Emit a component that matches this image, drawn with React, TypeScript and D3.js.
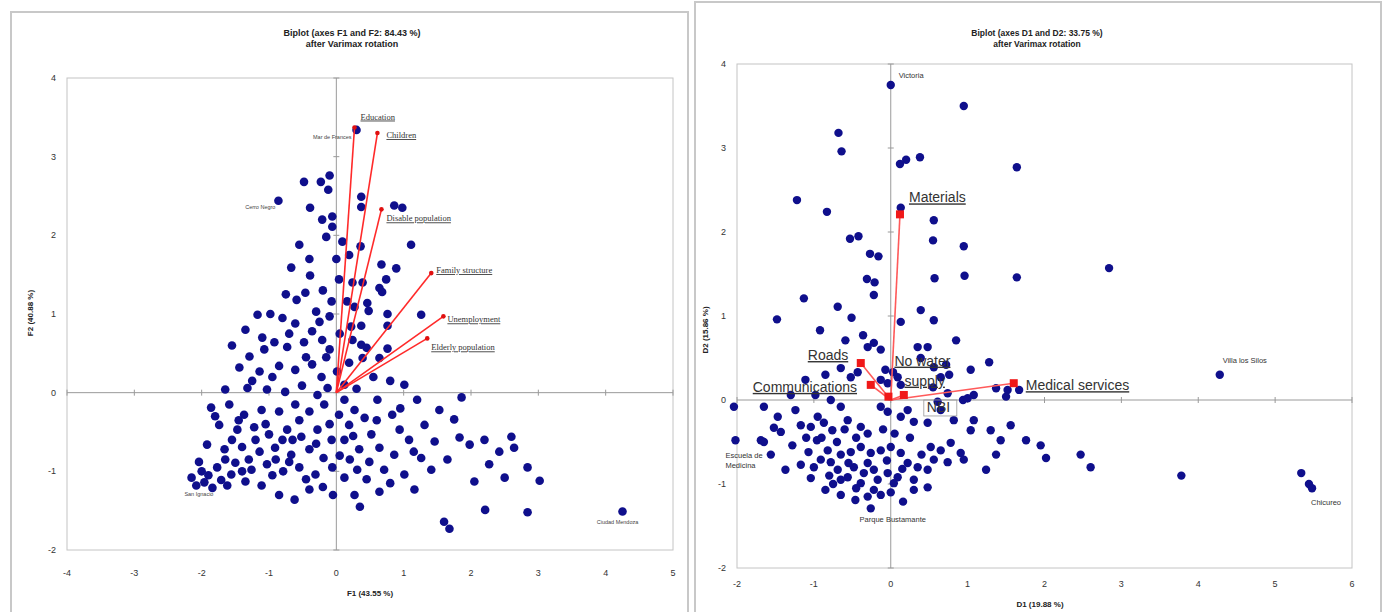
import React from "react";
import * as d3 from "d3";

// ---- left biplot (F1 / F2) ----
const leftTicksX = [-4, -3, -2, -1, 0, 1, 2, 3, 4, 5];
const leftTicksY = [-2, -1, 0, 1, 2, 3, 4];

const leftPoints: [number, number][] = [
  [0.30, 3.34], [-0.10, 2.76], [-0.12, 2.58], [-0.23, 2.68], [0.37, 2.49], [0.37, 2.36], [-0.06, 2.24], [-0.21, 2.20],
  [-0.06, 2.11], [0.86, 2.38], [0.98, 2.35], [-0.15, 1.98], [0.09, 1.92], [0.19, 1.75], [0.36, 1.86], [1.11, 1.88],
  [0.67, 1.63], [0.89, 1.58], [0.04, 1.44], [0.24, 1.40], [0.39, 1.40], [0.74, 1.44], [0.64, 1.33], [0.68, 1.28],
  [-0.07, 1.16], [0.16, 1.16], [0.46, 1.14], [0.27, 1.09], [-0.10, 0.97], [0.48, 1.04], [0.76, 1.00], [1.26, 0.99],
  [0.22, 0.84], [0.37, 0.85], [0.76, 0.85], [-0.21, 0.67], [0.24, 0.67], [0.37, 0.61], [0.45, 0.57], [0.76, 0.56],
  [0.64, 0.44], [0.39, 0.44], [0.19, 0.38], [-0.48, 2.68], [-0.39, 2.35], [-0.86, 2.44],
  [-0.55, 1.88], [-0.67, 1.59], [-0.39, 1.49], [-0.46, 1.27], [-0.59, 1.18], [-0.80, 0.95], [-0.61, 0.88], [-0.36, 0.78],
  [-0.30, 1.03], [-1.17, 0.99], [-0.98, 1.00], [-0.48, 0.64], [-0.73, 0.58], [-0.92, 0.64], [-1.07, 0.55], [-1.29, 0.46],
  [-1.44, 0.32], [-1.14, 0.27], [-0.85, 0.34], [-0.61, 0.29], [-0.36, 0.36], [-0.22, 0.20], [-1.65, 0.04], [-1.32, 0.06],
  [-1.03, 0.04], [-0.76, 0.01], [-0.51, 0.09], [-0.28, -0.03], [-0.10, 0.55], [0.01, 0.27], [0.12, 0.10], [-0.13, 0.06],
  [-1.86, -0.19], [-1.59, -0.15], [-1.37, -0.28], [-1.11, -0.22], [-0.85, -0.24], [-0.61, -0.15], [-0.40, -0.24], [-0.18, -0.15],
  [-1.74, -0.41], [-1.47, -0.47], [-1.22, -0.44], [-1.00, -0.53], [-0.73, -0.47], [-0.52, -0.56], [-0.28, -0.47], [-0.07, -0.60],
  [-1.92, -0.66], [-1.66, -0.72], [-1.40, -0.69], [-1.14, -0.75], [-0.91, -0.70], [-0.67, -0.79], [-0.40, -0.72], [-0.19, -0.83],
  [-2.04, -0.88], [-1.77, -0.95], [-1.50, -0.89], [-1.26, -0.98], [-1.03, -0.91], [-0.79, -1.00], [-0.55, -0.95], [-0.31, -1.04],
  [-0.06, -0.95], [-2.15, -1.08], [-1.96, -1.14], [-1.84, -1.21], [-1.71, -1.11], [-1.56, -1.04], [-1.35, -1.13], [-1.11, -1.18],
  [-0.62, -1.36], [-0.40, -1.23],
  [0.12, -0.09], [0.27, -0.22], [0.19, -0.41], [0.42, -0.32], [0.04, -0.28], [0.12, -0.60], [0.34, -0.72], [0.52, -0.53],
  [0.64, -0.70], [0.31, -0.98], [0.49, -0.88], [0.12, -1.08], [0.71, -0.98], [0.86, -0.79], [0.94, -0.47], [0.83, -0.28],
  [0.61, -0.09], [1.01, 0.10], [1.20, -0.09], [1.08, -0.60], [1.26, -0.83], [1.46, -0.62], [1.01, -1.04], [0.64, -1.26],
  [0.27, -1.30], [1.16, -1.23], [1.41, -0.98], [1.65, -0.85], [1.83, -0.57], [1.98, -0.66], [2.20, -0.60], [2.42, -0.75],
  [2.60, -0.56], [2.64, -0.70], [2.27, -0.91], [2.05, -1.13], [2.50, -1.08], [3.02, -1.12], [2.84, -0.95], [1.60, -1.64],
  [1.68, -1.73], [2.21, -1.49], [2.84, -1.52], [4.25, -1.51], [1.53, -0.22], [1.75, -0.34], [1.31, -0.41], [1.86, -0.06],
  [-1.80, -0.30], [-1.55, -0.60], [-1.30, -0.85], [-1.05, -0.40], [-0.80, -0.60], [-0.55, -0.35], [-0.30, -0.65], [-0.10, -0.40],
  [-1.65, -0.85], [-1.40, -1.00], [-0.95, -1.05], [-0.70, -0.88], [-0.45, -1.10], [-0.20, -1.20], [-1.20, -0.60], [-0.65, -0.60],
  [-0.90, -0.85], [-2.00, -1.00], [-1.90, -1.05], [-1.62, -1.18], [-2.08, -1.18], [-1.45, -0.35], [-0.95, 0.20], [-1.25, 0.15],
  [-0.45, 0.45], [-0.70, 0.75], [-0.15, 0.45], [-0.25, 0.90], [-0.40, 1.70], [0.05, 0.75], [0.55, 0.20], [0.80, 0.15],
  [0.30, 0.05], [0.95, -0.20], [0.45, -1.10], [0.80, -1.15], [0.20, -0.85], [1.15, -0.75], [0.60, -0.35], [0.25, -0.55],
  [0.05, -0.80], [-0.05, -1.30], [0.35, -1.45], [-0.85, -1.30], [-1.10, 0.70], [-1.55, 0.60], [-1.35, 0.80], [-0.75, 1.25],
  [0.00, 1.70], [-0.20, 1.30],
];

const leftVectorNames = ["Education", "Children", "Disable population", "Family structure", "Unemployment", "Elderly population"];
const leftVectorX = [0.27, 0.61, 0.67, 1.41, 1.59, 1.35];
const leftVectorY = [3.37, 3.30, 2.33, 1.52, 0.97, 0.69];

const leftObsNames = ["Mar de Frances", "Cerro Negro", "San Ignacio", "Ciudad Mendoza"];
const leftObsX = [0.30, -0.86, -1.84, 4.25];
const leftObsY = [3.34, 2.44, -1.21, -1.51];

// ---- right biplot (D1 / D2) ----
const rightTicksX = [-2, -1, 0, 1, 2, 3, 4, 5, 6];
const rightTicksY = [-2, -1, 0, 1, 2, 3, 4];

const rightPoints: [number, number][] = [
  [0.00, 3.75], [0.95, 3.50], [-0.68, 3.18], [-0.64, 2.96], [1.64, 2.77], [0.12, 2.81], [0.20, 2.86], [0.38, 2.89],
  [-1.22, 2.38], [-0.83, 2.24], [0.56, 2.14], [0.13, 2.29], [-0.53, 1.92], [-0.42, 1.95], [0.55, 1.90], [0.95, 1.83],
  [-0.27, 1.74], [-0.16, 1.71], [2.84, 1.57], [-0.31, 1.44], [-0.21, 1.40], [0.57, 1.45], [0.96, 1.48], [1.64, 1.46],
  [-1.13, 1.21], [-1.48, 0.96], [-0.69, 1.11], [-0.51, 0.98], [0.13, 0.93], [0.39, 1.07], [0.56, 0.95], [-0.92, 0.83],
  [-0.59, 0.71], [-0.36, 0.77], [0.85, 0.71], [-0.22, 1.25],
  [-1.65, -0.08], [-1.47, -0.20], [-1.52, -0.33], [-0.95, -0.20], [-0.87, -0.27], [-1.04, -0.32], [-0.65, -0.08], [-0.56, -0.24],
  [-0.39, -0.32], [-0.76, -0.36], [-0.65, 0.38], [-0.52, 0.27], [-0.43, 0.33], [-0.13, 0.60], [-0.30, 0.63], [-0.22, 0.68],
  [-0.07, 0.36], [0.03, 0.33], [0.09, 0.27], [-0.13, 0.24], [-0.04, 0.20], [0.13, 0.18], [0.35, 0.63], [0.48, 0.63],
  [0.39, 0.50], [0.56, 0.39], [0.72, 0.42], [0.65, 0.27], [0.76, 0.30], [0.55, 0.15], [0.74, 0.08], [0.61, -0.02],
  [1.04, 0.36], [1.28, 0.45], [1.08, 0.06], [0.94, 0.00], [1.00, 0.02], [1.37, 0.14], [1.52, 0.12], [1.50, 0.04],
  [1.67, 0.12], [-0.13, -0.08], [-0.04, -0.14], [0.13, -0.20], [0.22, -0.12], [0.30, -0.26], [0.48, -0.27], [0.65, -0.12],
  [0.82, -0.24], [1.08, -0.24], [1.30, -0.36], [1.04, -0.36], [-1.43, -0.38], [-1.69, -0.48],
  [-1.65, -0.50], [-1.28, -0.54], [-1.07, -0.62], [-0.82, -0.60], [-0.78, -0.74], [-0.65, -0.65], [-0.52, -0.62], [-0.39, -0.56],
  [-0.26, -0.63], [-0.13, -0.60], [0.00, -0.56], [0.13, -0.63], [0.22, -0.75], [0.35, -0.80], [0.48, -0.83], [0.56, -0.71],
  [0.52, -0.56], [0.65, -0.60], [0.78, -0.51], [0.91, -0.63], [0.95, -0.71], [0.74, -0.74], [-0.91, -0.71], [-0.69, -0.83],
  [-0.56, -0.92], [-0.48, -0.80], [-0.35, -0.87], [-0.22, -0.83], [-0.04, -0.87], [0.09, -0.92], [-0.65, -0.95], [-0.39, -0.99],
  [-0.17, -0.95], [0.04, -0.99], [0.30, -0.95], [0.48, -1.04], [0.30, -1.07], [-0.22, -1.07], [-0.13, -1.13], [0.16, -1.21],
  [-0.26, -1.29],
  [4.28, 0.30], [5.34, -0.87], [5.44, -1.00], [5.48, -1.05], [3.78, -0.90], [2.60, -0.80], [2.47, -0.65], [2.02, -0.69],
  [1.56, -0.30], [1.76, -0.48], [1.95, -0.54], [1.43, -0.48], [1.37, -0.65], [1.24, -0.83], [-2.04, -0.08], [-2.02, -0.48],
  [-1.56, -0.65], [-1.37, -0.83], [-1.24, -0.12], [-1.17, -0.30], [-1.30, 0.06], [-0.98, 0.06], [-0.78, 0.00], [-1.11, 0.24],
  [-0.85, 0.30], [-0.96, -0.48], [-1.17, -0.77], [-1.04, -0.93], [-0.85, -1.07], [-0.65, -1.13], [-0.46, -1.19],
  [-0.90, -0.45], [-0.70, -0.50], [-0.45, -0.45], [-0.30, -0.40], [-0.10, -0.35], [0.05, -0.40], [0.25, -0.45], [-1.00, -0.80],
  [-0.80, -0.90], [-0.55, -0.75], [-0.30, -0.75], [-0.05, -0.72], [0.15, -0.82], [-0.45, -1.05], [-0.30, -1.15], [0.00, -1.10],
  [-0.75, -1.00], [0.40, -0.65], [-1.10, -0.45], [-0.60, -0.35],
];

const rightVectorNames = ["Materials", "Roads", "Communications", "No water supply", "NBI", "Medical services"];
const rightVectorX = [0.12, -0.39, -0.26, -0.03, 0.17, 1.60];
const rightVectorY = [2.21, 0.44, 0.18, 0.04, 0.06, 0.20];

const rightObsNames = ["Victoria", "Villa los Silos", "Chicureo", "Escuela de Medicina", "Parque Bustamante"];
const rightObsX = [0.00, 4.28, 5.48, -2.02, -0.26];
const rightObsY = [3.75, 0.30, -1.05, -0.48, -1.29];

// label placement (px offsets from the mark)
const leftVecLabelOff: [number, number][] = [[6, -8], [9, 5], [5, 12], [5, 0], [4, 6], [4, 12]];
const leftObsLabelOff: [number, number, string][] = [[-5, 9, "end"], [-3, 8, "end"], [1, 8, "end"], [-5, 13, "middle"]];
const rightVecLabelOff: [number, number][] = [[9, -12], [-53, -3], [-118, 7], [6, -31], [23, 17], [12, 7]];
const rightObsLabelOff: [number, number, string][] = [[8, -7], [3, -12], [-1, 17], [-10, 18], [22, 14]].map(
  (d, i) => [d[0], d[1], i === 4 ? "middle" : "start"] as [number, number, string]
);

const SANS = "'Liberation Sans', Arial, sans-serif";
const SERIF = "'Liberation Serif', 'Times New Roman', serif";
const DOT = "#0f0f8c";

function Frame({ x, y, tx, ty, tickY }: any) {
  const [x0, x1] = x.range();
  const [y0, y1] = y.range();
  return (
    <g>
      <rect x={x0} y={y1} width={x1 - x0} height={y0 - y1} fill="none" stroke="#c4c4c4" strokeWidth={1} />
      <line x1={x0} x2={x1} y1={y(0)} y2={y(0)} stroke="#9a9a9a" strokeWidth={1} />
      <line x1={x(0)} x2={x(0)} y1={y0} y2={y1} stroke="#9a9a9a" strokeWidth={1} />
      {tx.map((t: number) => (
        <line key={"tx" + t} x1={x(t)} x2={x(t)} y1={y(0) - 3} y2={y(0) + 3} stroke="#9a9a9a" />
      ))}
      {ty.map((t: number) => (
        <line key={"ty" + t} x1={x(0) - 3} x2={x(0) + 3} y1={y(t)} y2={y(t)} stroke="#9a9a9a" />
      ))}
      {tx.map((t: number) => (
        <text key={"lx" + t} x={x(t)} y={tickY} fontSize={9} fontFamily={SANS} fill="#333" textAnchor="middle">
          {t}
        </text>
      ))}
      {ty.map((t: number) => (
        <text key={"ly" + t} x={x0 - 11} y={y(t) + 3} fontSize={9} fontFamily={SANS} fill="#333" textAnchor="end">
          {t}
        </text>
      ))}
    </g>
  );
}

export default function App() {
  const lx = d3.scaleLinear().domain([-4, 5]).range([67, 673]);
  const ly = d3.scaleLinear().domain([-2, 4]).range([550, 78]);
  const rx = d3.scaleLinear().domain([-2, 6]).range([737, 1352]);
  const ry = d3.scaleLinear().domain([-2, 4]).range([568, 64]);

  return (
    <svg width={1383} height={612} style={{ position: "absolute", left: 0, top: 0, background: "#fff" }}>
      {/* panel borders */}
      <rect x={11} y={12} width={677} height={604} fill="none" stroke="#c8c8c8" strokeWidth={2} />
      <rect x={695} y={2} width={686} height={612} fill="none" stroke="#c8c8c8" strokeWidth={2} />

      {/* ---------- left chart ---------- */}
      <text x={352} y={36} textAnchor="middle" fontSize={9} fontWeight="bold" fontFamily={SANS} fill="#222">
        Biplot (axes F1 and F2: 84.43 %)
      </text>
      <text x={352} y={47} textAnchor="middle" fontSize={9} fontWeight="bold" fontFamily={SANS} fill="#222">
        after Varimax rotation
      </text>
      <Frame x={lx} y={ly} tx={leftTicksX} ty={leftTicksY} tickY={576} />
      <text x={370} y={596} textAnchor="middle" fontSize={8} fontWeight="bold" fontFamily={SANS} fill="#222">
        F1 (43.55 %)
      </text>
      <text transform="translate(33,313) rotate(-90)" textAnchor="middle" fontSize={8} fontWeight="bold" fontFamily={SANS} fill="#222">
        F2 (40.88 %)
      </text>
      {leftPoints.map((p, i) => (
        <circle key={"lp" + i} cx={lx(p[0])} cy={ly(p[1])} r={4.3} fill={DOT} />
      ))}
      {leftVectorNames.map((n, i) => (
        <g key={"lv" + i}>
          <line x1={lx(0)} y1={ly(0)} x2={lx(leftVectorX[i])} y2={ly(leftVectorY[i])} stroke="#ff2a2a" strokeWidth={1.6} />
          <circle cx={lx(leftVectorX[i])} cy={ly(leftVectorY[i])} r={2.3} fill="#e01010" />
          <text
            x={lx(leftVectorX[i]) + leftVecLabelOff[i][0]}
            y={ly(leftVectorY[i]) + leftVecLabelOff[i][1]}
            fontSize={8.5}
            fontFamily={SERIF}
            fill="#333"
            textDecoration="underline"
          >
            {n}
          </text>
        </g>
      ))}
      {leftObsNames.map((n, i) => (
        <text
          key={"lo" + i}
          x={lx(leftObsX[i]) + leftObsLabelOff[i][0]}
          y={ly(leftObsY[i]) + leftObsLabelOff[i][1]}
          textAnchor={leftObsLabelOff[i][2] as any}
          fontSize={5.5}
          fontFamily={SANS}
          fill="#444"
        >
          {n}
        </text>
      ))}

      {/* ---------- right chart ---------- */}
      <text x={1037} y={36} textAnchor="middle" fontSize={8.5} fontWeight="bold" fontFamily={SANS} fill="#222">
        Biplot (axes D1 and D2: 33.75 %)
      </text>
      <text x={1037} y={47} textAnchor="middle" fontSize={8.5} fontWeight="bold" fontFamily={SANS} fill="#222">
        after Varimax rotation
      </text>
      <Frame x={rx} y={ry} tx={rightTicksX} ty={rightTicksY} tickY={587} />
      <text x={1040} y={607} textAnchor="middle" fontSize={8} fontWeight="bold" fontFamily={SANS} fill="#222">
        D1 (19.88 %)
      </text>
      <text transform="translate(708,330) rotate(-90)" textAnchor="middle" fontSize={8} fontWeight="bold" fontFamily={SANS} fill="#222">
        D2 (15.86 %)
      </text>
      {rightPoints.map((p, i) => (
        <circle key={"rp" + i} cx={rx(p[0])} cy={ry(p[1])} r={4.2} fill={DOT} />
      ))}
      {rightVectorNames.map((n, i) => (
        <line key={"rl" + i} x1={rx(0)} y1={ry(0)} x2={rx(rightVectorX[i])} y2={ry(rightVectorY[i])} stroke="#ff5a5a" strokeWidth={1.6} />
      ))}
      {rightVectorNames.map((n, i) => (
        <rect key={"rs" + i} x={rx(rightVectorX[i]) - 4} y={ry(rightVectorY[i]) - 4} width={8} height={8} fill="#f01818" />
      ))}
      {rightVectorNames.map((n, i) => {
        const x = rx(rightVectorX[i]) + rightVecLabelOff[i][0];
        const y = ry(rightVectorY[i]) + rightVecLabelOff[i][1];
        const common = { fontSize: 14, fontFamily: SANS, fill: "#333", textDecoration: "underline" } as any;
        if (n === "No water supply") {
          return (
            <g key={"rt" + i}>
              <text x={x} y={y} {...common}>No water</text>
              <text x={x + 10} y={y + 20} {...common}>supply</text>
            </g>
          );
        }
        if (n === "NBI") {
          return (
            <g key={"rt" + i}>
              <rect x={x - 3} y={y - 12} width={33} height={16} fill="none" stroke="#999" strokeWidth={0.8} />
              <text x={x} y={y} {...common} textDecoration="none">NBI</text>
            </g>
          );
        }
        return (
          <text key={"rt" + i} x={x} y={y} {...common}>
            {n}
          </text>
        );
      })}
      {rightObsNames.map((n, i) => {
        const x = rx(rightObsX[i]) + rightObsLabelOff[i][0];
        const y = ry(rightObsY[i]) + rightObsLabelOff[i][1];
        const parts = n === "Escuela de Medicina" ? ["Escuela de", "Medicina"] : [n];
        return (
          <text key={"ro" + i} x={x} y={y} textAnchor={rightObsLabelOff[i][2] as any} fontSize={7.5} fontFamily={SANS} fill="#333">
            {parts.map((s, k) => (
              <tspan key={k} x={x} dy={k === 0 ? 0 : 10}>
                {s}
              </tspan>
            ))}
          </text>
        );
      })}
    </svg>
  );
}
